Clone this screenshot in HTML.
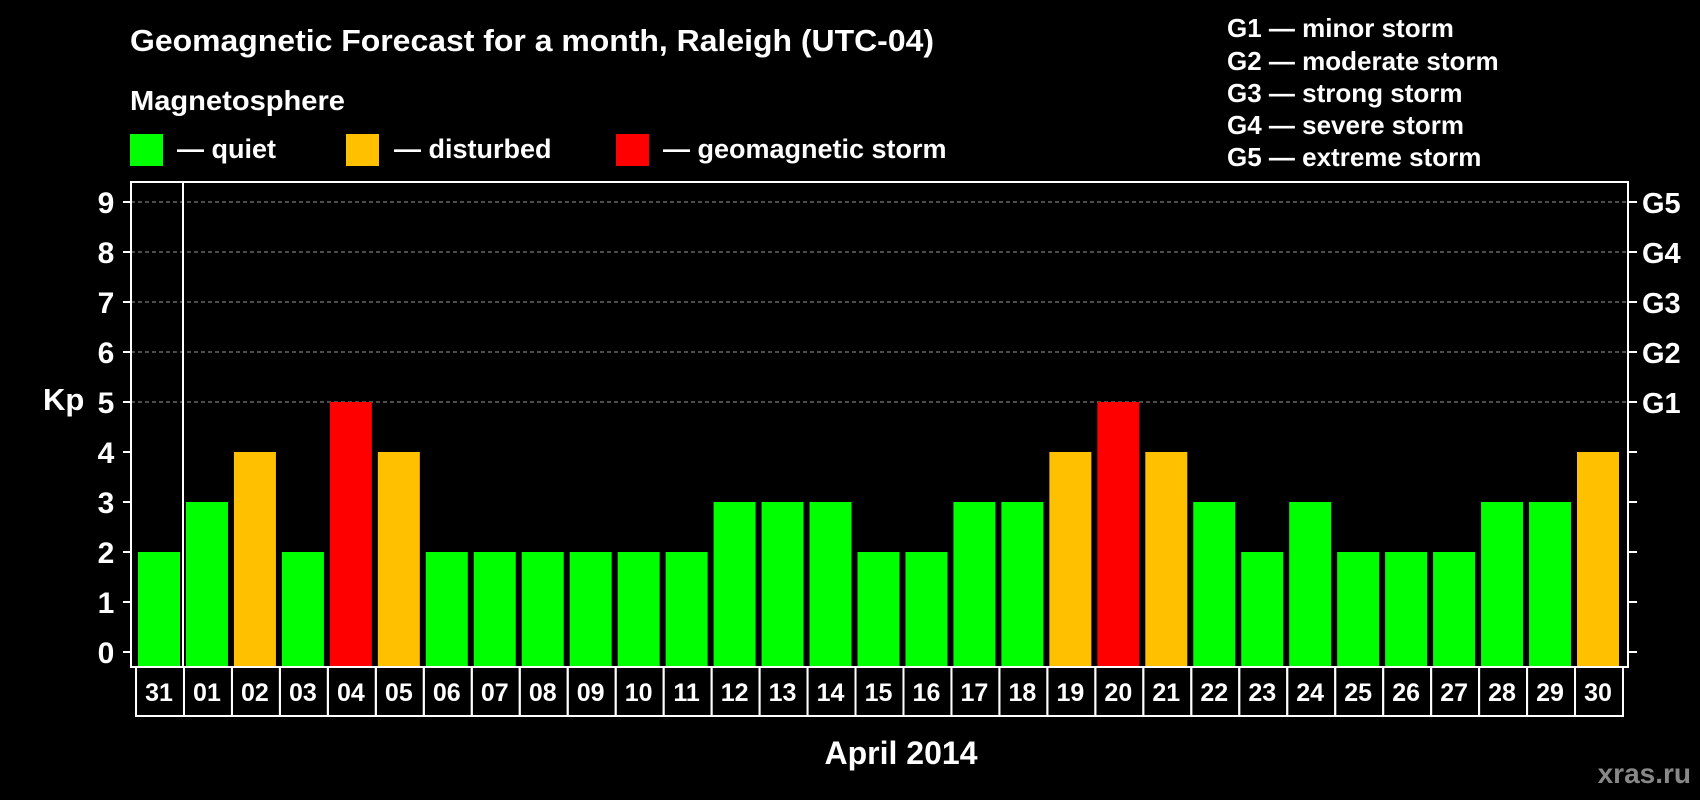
<!DOCTYPE html>
<html><head><meta charset="utf-8"><style>
html,body{margin:0;padding:0;background:#000;}
svg{display:block;font-family:"Liberation Sans",Arial,sans-serif;font-weight:bold;}
</style></head><body>
<svg id="chart" width="1700" height="800" viewBox="0 0 1700 800">
<rect width="1700" height="800" fill="#000"/>
<text x="130" y="51" fill="#fff" font-size="31" textLength="804" lengthAdjust="spacingAndGlyphs">Geomagnetic Forecast for a month, Raleigh (UTC-04)</text>
<text x="130" y="110" fill="#fff" font-size="28" textLength="215" lengthAdjust="spacingAndGlyphs">Magnetosphere</text>
<g><rect x="130" y="134" width="33" height="32" fill="#00ff00"/><text x="177" y="158" fill="#fff" font-size="27">— quiet</text></g>
<g><rect x="346" y="134" width="33" height="32" fill="#ffc000"/><text x="394" y="158" fill="#fff" font-size="27">— disturbed</text></g>
<g><rect x="616" y="134" width="33" height="32" fill="#ff0000"/><text x="663" y="158" fill="#fff" font-size="27">— geomagnetic storm</text></g>
<g fill="#fff" font-size="26">
<text x="1227" y="37">G1 — minor storm</text>
<text x="1227" y="70">G2 — moderate storm</text>
<text x="1227" y="102">G3 — strong storm</text>
<text x="1227" y="134">G4 — severe storm</text>
<text x="1227" y="166">G5 — extreme storm</text>
</g>
<text x="43" y="410" fill="#fff" font-size="31">Kp</text>
<g id="plot"></g>
<text x="901" y="764" text-anchor="middle" fill="#fff" font-size="32">April 2014</text>
<text x="1691" y="783" text-anchor="end" fill="#888" font-size="28">xras.ru</text>
</svg>
<script>
const days = ["31","01","02","03","04","05","06","07","08","09","10","11","12","13","14","15","16","17","18","19","20","21","22","23","24","25","26","27","28","29","30"];
const kp = [2,3,4,2,5,4,2,2,2,2,2,2,3,3,3,2,2,3,3,4,5,4,3,2,3,2,2,2,3,3,4];
const yTicks = [0,1,2,3,4,5,6,7,8,9];
const gLabels = ["G1","G2","G3","G4","G5"];
const gLevels = [5,6,7,8,9];

const NS="http://www.w3.org/2000/svg";
const plot=document.getElementById('plot');
const L=131,R=1628,T=182,B=667;
const y0=652,unit=50;
const step=(1577-138)/30;
function y(v){return y0-v*unit;}
function xl(i){return 138+i*step;}
function mk(t,a,p){const e=document.createElementNS(NS,t);for(const k in a)e.setAttribute(k,a[k]);(p||plot).appendChild(e);return e;}
function color(v){return v>=5?"#ff0000":v>=4?"#ffc000":"#00ff00";}

gLevels.forEach(v=>{
  const g=mk('line',{x1:L,x2:R,y1:y(v),y2:y(v),stroke:'#999','stroke-width':1,'stroke-dasharray':'4,3'});
  
  
});
kp.forEach((v,i)=>{
  const b=mk('rect',{x:xl(i),y:y(v),width:42,height:B-y(v),fill:color(v)});
  
  
});
const f=mk('rect',{x:L,y:T,width:R-L,height:B-T,fill:'none',stroke:'#fff','stroke-width':2});


const dv=mk('line',{x1:183,x2:183,y1:T,y2:B,stroke:'#fff','stroke-width':2});


yTicks.forEach(v=>{
  mk('line',{x1:123,x2:L,y1:y(v),y2:y(v),stroke:'#fff','stroke-width':2});
  mk('line',{x1:R,x2:1637,y1:y(v),y2:y(v),stroke:'#fff','stroke-width':2});
  const t=mk('text',{x:106,y:y(v)+11,'text-anchor':'middle',fill:'#fff','font-size':30});
  t.textContent=v;
  
  
});
gLabels.forEach((g,i)=>{
  const t=mk('text',{x:1642,y:y(gLevels[i])+11,fill:'#fff','font-size':29});
  t.textContent=g;
  
  
});
days.forEach((d,i)=>{
  const cx=xl(i)+21;
  const r=mk('rect',{x:cx-step/2+1,y:B,width:step,height:49,fill:'none',stroke:'#fff','stroke-width':2});
  
  
  const t=mk('text',{x:cx,y:B+34,'text-anchor':'middle',fill:'#fff','font-size':25});
  t.textContent=d;
  
  
});
</script>
</body></html>
